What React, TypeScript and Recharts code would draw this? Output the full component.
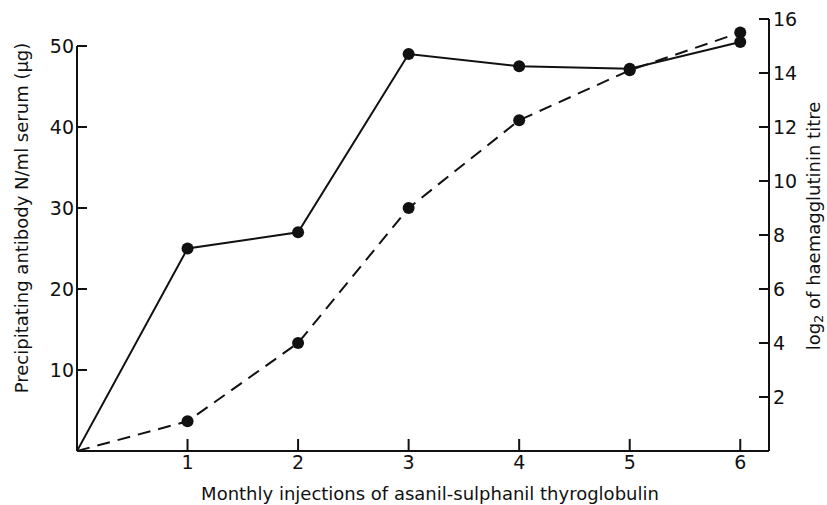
import React from 'react';
import { LineChart, Line, XAxis, YAxis, ReferenceLine, Label } from 'recharts';

// monthly injections (x) and the two measured series
const injections = [0, 1, 2, 3, 4, 5, 6];
const antibodyN = [0, 25, 27, 49, 47.5, 47.2, 50.5];
const titreLog2 = [0, 1.1, 4, 9, 12.25, 14.1, 15.5];

const xTicks = [1, 2, 3, 4, 5, 6];
const leftTicks = [10, 20, 30, 40, 50];
const rightTicks = [2, 4, 6, 8, 10, 12, 14, 16];

const data = injections.map((x, i) => ({ x, antibody: antibodyN[i], titre: titreLog2[i] }));

const FONT = '"DejaVu Sans", sans-serif';
const INK = '#111';

// no marker at the origin
const renderDot = (props: any) => {
  const { cx, cy, payload, index } = props;
  if (payload.x === 0) return <g key={`d-${index}`} />;
  return <circle key={`d-${index}`} cx={cx} cy={cy} r={6} fill={INK} />;
};

const LeftTitle = (props: any) => {
  const { viewBox } = props;
  const x = viewBox.x + 21;
  const y = viewBox.y + viewBox.height / 2 - 17;
  return (
    <text
      x={x}
      y={y}
      transform={`rotate(-90, ${x}, ${y})`}
      textAnchor="middle"
      dominantBaseline="central"
      fill={INK}
      fontSize={18}
      fontFamily={FONT}
    >
      Precipitating antibody N/ml serum (μg)
    </text>
  );
};

const RightTitle = (props: any) => {
  const { viewBox } = props;
  const x = viewBox.x + 44;
  const y = viewBox.y + viewBox.height / 2 - 9;
  return (
    <text
      x={x}
      y={y}
      transform={`rotate(-90, ${x}, ${y})`}
      textAnchor="middle"
      dominantBaseline="central"
      fill={INK}
      fontSize={18}
      fontFamily={FONT}
    >
      <tspan>log</tspan>
      <tspan dy={5} fontSize={13}>2</tspan>
      <tspan dy={-5}> of haemagglutinin titre</tspan>
    </text>
  );
};

const axisStroke = { stroke: INK, strokeWidth: 2 };
const tickStyle = { fill: INK, fontSize: 19, fontFamily: FONT };

export default function App() {
  return (
    <div style={{ position: 'absolute', left: 0, top: 0, background: '#fff' }}>
      <LineChart width={827} height={505} data={data} margin={{ top: 19, right: 0, bottom: 0, left: 0 }}>
        <XAxis
          dataKey="x"
          type="number"
          domain={[0, 6.26]}
          ticks={xTicks}
          interval={0}
          height={54}
          tickSize={-12}
          tickMargin={17}
          axisLine={axisStroke}
          tickLine={axisStroke}
          tick={tickStyle}
          allowDataOverflow
        >
          <Label
            value="Monthly injections of asanil-sulphanil thyroglobulin"
            position="insideBottom"
            offset={5}
            dx={7}
            fill={INK}
            fontSize={18}
            fontFamily={FONT}
          />
        </XAxis>
        <YAxis
          yAxisId="left"
          type="number"
          domain={[0, 53.33]}
          ticks={leftTicks}
          interval={0}
          width={77}
          tickSize={-10}
          tickMargin={13}
          axisLine={false}
          tickLine={axisStroke}
          tick={tickStyle}
          allowDataOverflow
        >
          <Label content={LeftTitle} />
        </YAxis>
        <YAxis
          yAxisId="right"
          orientation="right"
          type="number"
          domain={[0, 16]}
          ticks={rightTicks}
          interval={0}
          width={58}
          tickSize={-10}
          tickMargin={14}
          axisLine={axisStroke}
          tickLine={axisStroke}
          tick={tickStyle}
          allowDataOverflow
        >
          <Label content={RightTitle} />
        </YAxis>
        <ReferenceLine
          yAxisId="left"
          segment={[{ x: 0, y: 0 }, { x: 0, y: 50 }]}
          stroke={INK}
          strokeWidth={2}
        />
        <Line
          yAxisId="left"
          type="linear"
          dataKey="antibody"
          stroke={INK}
          strokeWidth={2}
          dot={renderDot}
          activeDot={false}
          isAnimationActive={false}
        />
        <Line
          yAxisId="right"
          type="linear"
          dataKey="titre"
          stroke={INK}
          strokeWidth={2}
          strokeDasharray="13 8"
          dot={renderDot}
          activeDot={false}
          isAnimationActive={false}
        />
      </LineChart>
    </div>
  );
}
